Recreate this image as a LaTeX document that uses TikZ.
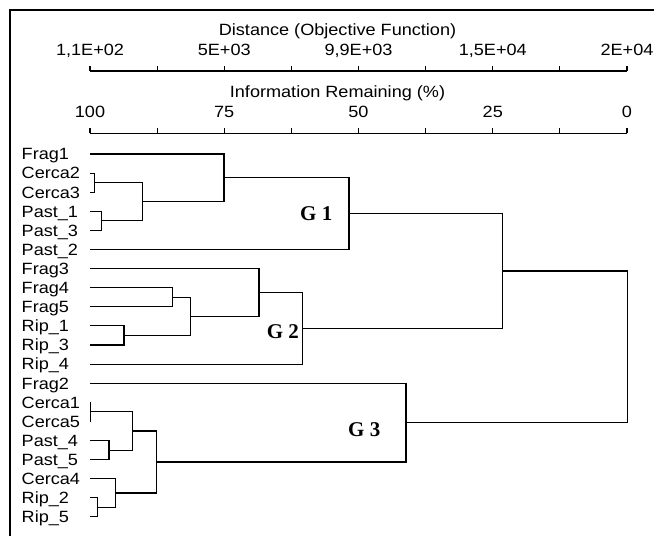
\documentclass[tikz,border=0pt]{standalone}
\usepackage{fontspec}
\setmainfont{Liberation Sans}
\newfontfamily\glabfont{Liberation Serif}
\begin{document}
\begin{tikzpicture}[x=1pt,y=-1pt,
  lab/.style={font=\fontsize{16.3}{19}\selectfont, inner sep=0pt, anchor=base, xscale=1.11},
  leaf/.style={font=\fontsize{16.3}{19}\selectfont, inner sep=0pt, anchor=base west, xscale=1.11},
  grp/.style={font=\glabfont\bfseries\fontsize{21}{23}\selectfont, inner sep=0pt, anchor=base west},
  link/.style={line width=1.1pt, line join=miter},
  axisln/.style={line width=1.1pt}]
\useasboundingbox (0,0) rectangle (654,536);
% frame
\coordinate (fb) at (10,536); \coordinate (fc) at (10,10); \coordinate (fr) at (654,10);
\draw[line width=2.6pt] (fb) -- (fc) -- (fr);
% axis 1
\coordinate (a1s) at (90,71); \coordinate (a1e) at (627,71);
\draw[axisln] (a1s) -- (a1e);
\foreach \k in {0,...,8} \draw[axisln] (90+67.125*\k,71) -- ++(0,-5.5);
\node[lab] (ttl1) at (337.5,35.7) {Distance (Objective Function)};
\node[lab] (d0) at (90,55) {1,1E+02};
\node[lab] (d1) at (224.25,55) {5E+03};
\node[lab] (d2) at (358.5,55) {9,9E+03};
\node[lab] (d3) at (492.75,55) {1,5E+04};
\node[lab] (d4) at (627,55) {2E+04};
% axis 2
\coordinate (a2s) at (90,133.3); \coordinate (a2e) at (627,133.3);
\draw[axisln] (a2s) -- (a2e);
\foreach \k in {0,...,8} \draw[axisln] (90+67.125*\k,133.3) -- ++(0,-5.5);
\node[lab] (ttl2) at (337.5,97) {Information Remaining (\%)};
\node[lab] (p0) at (90,117) {100};
\node[lab] (p1) at (224.25,117) {75};
\node[lab] (p2) at (358.5,117) {50};
\node[lab] (p3) at (492.75,117) {25};
\node[lab] (p4) at (627,117) {0};
% leaves
\foreach \i/\y/\t in {0/154.0/Frag1, 1/173.1/Cerca2, 2/192.2/Cerca3, 3/211.3/Past\_1,
  4/230.4/Past\_3, 5/249.5/Past\_2, 6/268.6/Frag3, 7/287.7/Frag4, 8/306.8/Frag5,
  9/325.9/Rip\_1, 10/345.0/Rip\_3, 11/364.1/Rip\_4, 12/383.2/Frag2, 13/402.3/Cerca1,
  14/421.4/Cerca5, 15/440.5/Past\_4, 16/459.6/Past\_5, 17/478.7/Cerca4,
  18/497.8/Rip\_2, 19/516.9/Rip\_5}{
  \coordinate (l\i) at (90,\y);
  \node[leaf] (t\i) at (21.5,\y+5.8) {\t};
}
% cluster points
\coordinate (cA) at (94.3,182.65);
\coordinate (cB) at (101.7,220.85);
\coordinate (cC) at (142.3,201.75);
\coordinate (cD) at (224,177.875);
\coordinate (cG1) at (349,213.69);
\coordinate (cE) at (172.3,297.25);
\coordinate (cF) at (124,335.45);
\coordinate (cH) at (190.7,316.35);
\coordinate (cI) at (259,292.475);
\coordinate (cG2) at (302.7,328.29);
\coordinate (cJ) at (502.7,270.99);
\coordinate (cK) at (90.7,411.85);
\coordinate (cL) at (109,450.05);
\coordinate (cM) at (132.3,430.95);
\coordinate (cN) at (97.7,507.35);
\coordinate (cO) at (115.7,493.025);
\coordinate (cP) at (156.7,461.99);
\coordinate (cG3) at (406,422.6);
\coordinate (cR) at (627.7,346.8);
% links
\draw[link] (l1) -| (cA) |- (l2);
\draw[link] (l3) -| (cB) |- (l4);
\draw[link] (cA) -| (cC) |- (cB);
\draw[link] (l0) -| (cD) |- (cC);
\draw[link] (cD) -| (cG1) |- (l5);
\draw[link] (l7) -| (cE) |- (l8);
\draw[link] (l9) -| (cF) |- (l10);
\draw[link] (cE) -| (cH) |- (cF);
\draw[link] (l6) -| (cI) |- (cH);
\draw[link] (cI) -| (cG2) |- (l11);
\draw[link] (cG1) -| (cJ) |- (cG2);
\draw[link] (l13) -| (cK) |- (l14);
\draw[link] (l15) -| (cL) |- (l16);
\draw[link] (cK) -| (cM) |- (cL);
\draw[link] (l18) -| (cN) |- (l19);
\draw[link] (l17) -| (cO) |- (cN);
\draw[link] (cM) -| (cP) |- (cO);
\draw[link] (l12) -| (cG3) |- (cP);
\draw[link] (cJ) -| (cR) |- (cG3);
% group labels
\node[grp] (g1) at (300,220) {G 1};
\node[grp] (g2) at (266.7,338.3) {G 2};
\node[grp] (g3) at (348,436.7) {G 3};
\end{tikzpicture}
\end{document}
